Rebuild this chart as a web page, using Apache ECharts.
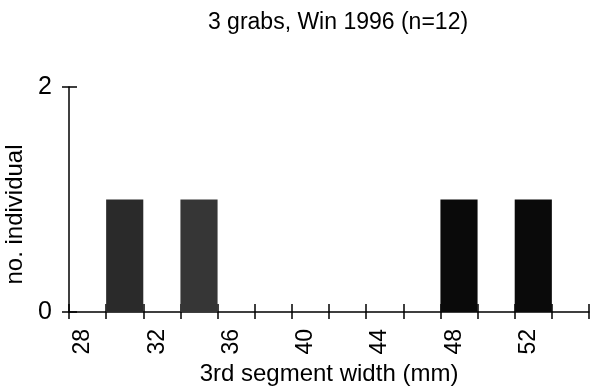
<!DOCTYPE html>
<html>
<head>
<meta charset="utf-8">
<script src="https://cdn.jsdelivr.net/npm/echarts@6/dist/echarts.min.js"></script>
<style>
  html, body { margin: 0; padding: 0; background: #ffffff; }
  #main { width: 593px; height: 386px; }
</style>
</head>
<body>
<div id="main"></div>
<script>
// histogram bins (start of each 2 mm bin) and counts
var binStart = [30, 34, 48, 52];
var binCount = [1, 1, 1, 1];
var binWidth = 2;
var binColor = ['#2a2a2a', '#363636', '#0a0a0a', '#0a0a0a'];
var xTickLabels = [28, 32, 36, 40, 44, 48, 52];

var font = 'Liberation Sans, Arial, Helvetica, sans-serif';
var myChart = echarts.init(document.getElementById('main'));

var data = [];
for (var i = 0; i < binStart.length; i++) {
  data.push([binStart[i], binStart[i] + binWidth, binCount[i]]);
}

var option = {
  backgroundColor: '#ffffff',
  animation: false,
  title: {
    text: '3 grabs, Win 1996 (n=12)',
    left: 333,
    textAlign: 'center',
    top: 6,
    textStyle: { fontFamily: font, fontSize: 23, fontWeight: 'normal', color: '#000' }
  },
  grid: { left: 69, right: 4, top: 87, bottom: 74, containLabel: false, outerBoundsMode: 'none' },
  xAxis: [{
    type: 'value',
    min: 28,
    max: 56,
    interval: 2,
    name: '3rd segment width (mm)',
    nameLocation: 'middle',
    nameGap: 42,
    nameTextStyle: { fontFamily: font, fontSize: 24, color: '#000' },
    axisLine: { lineStyle: { color: '#000', width: 1.5 } },
    axisTick: { inside: false, length: 7, lineStyle: { color: '#000', width: 1.5 } },
    splitLine: { show: false },
    axisLabel: {
      rotate: 90,
      margin: 17,
      fontFamily: font,
      fontSize: 23,
      color: '#000',
      verticalAlign: 'top',
      lineHeight: 28,
      formatter: function (v) {
        return xTickLabels.indexOf(v) >= 0 ? String(v) : '';
      }
    }
  }, {
    type: 'value',
    min: 28,
    max: 56,
    interval: 2,
    position: 'bottom',
    axisLine: { show: false },
    axisTick: { inside: true, length: 8, lineStyle: { color: '#000', width: 1.5 } },
    axisLabel: { show: false },
    splitLine: { show: false }
  }],
  yAxis: [{
    type: 'value',
    min: 0,
    max: 2,
    interval: 2,
    name: 'no. individual',
    nameLocation: 'middle',
    nameGap: 40,
    nameTextStyle: { fontFamily: font, fontSize: 24, color: '#000', padding: [0, 30, 0, 0] },
    axisLine: { show: true, lineStyle: { color: '#000', width: 1.5 } },
    axisTick: { show: true, length: 7, lineStyle: { color: '#000', width: 1.5 } },
    splitLine: { show: false },
    axisLabel: { margin: 17, fontFamily: font, fontSize: 25, color: '#000' }
  }, {
    type: 'value',
    min: 0,
    max: 2,
    interval: 2,
    position: 'left',
    axisLine: { show: false },
    axisTick: { show: true, inside: true, length: 8, lineStyle: { color: '#000', width: 1.5 } },
    axisLabel: { show: false },
    splitLine: { show: false }
  }],
  series: [{
    type: 'custom',
    xAxisIndex: 0,
    yAxisIndex: 0,
    data: data,
    renderItem: function (params, api) {
      var p0 = api.coord([api.value(0), api.value(2)]);
      var p1 = api.coord([api.value(1), 0]);
      return {
        type: 'rect',
        shape: { x: p0[0], y: p0[1], width: p1[0] - p0[0], height: p1[1] - p0[1] },
        style: { fill: binColor[params.dataIndex] }
      };
    }
  }]
};

myChart.setOption(option);
</script>
</body>
</html>
